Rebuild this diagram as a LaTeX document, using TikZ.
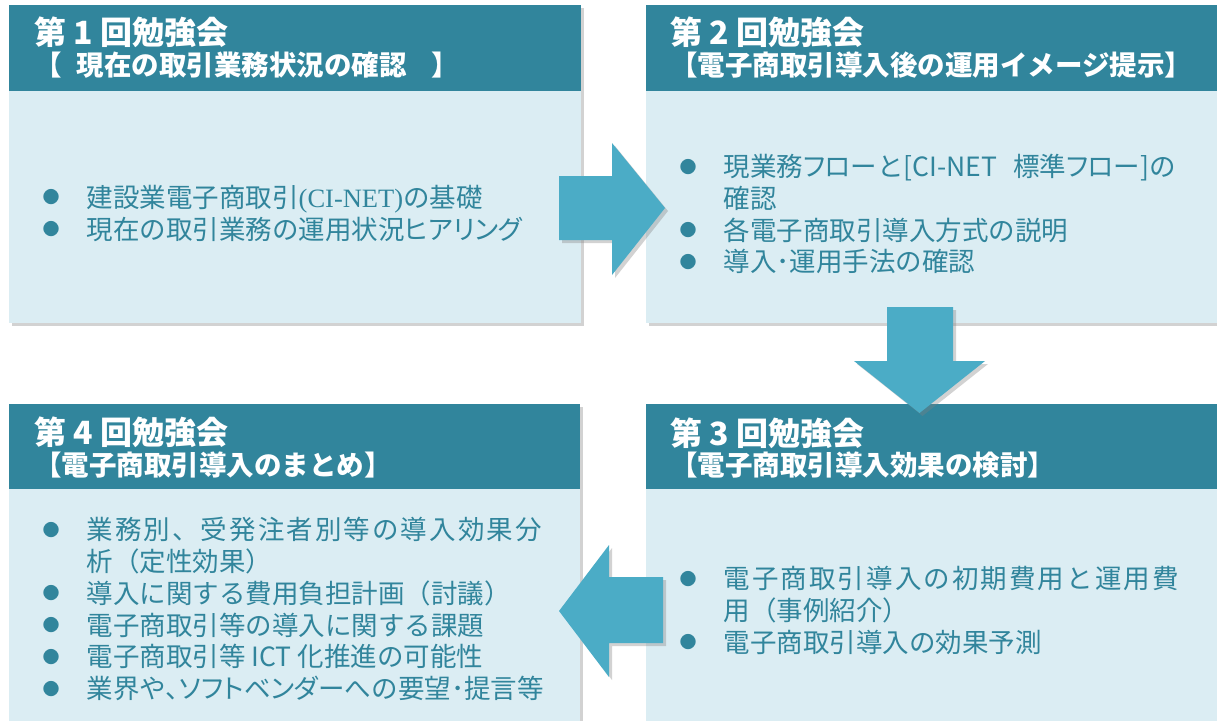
\documentclass[tikz,border=0pt]{standalone}
\usepackage{fontspec}
\newfontfamily\jp{Noto Sans CJK JP}
\newfontfamily\jpprop{Noto Sans CJK JP}[RawFeature=+palt]
\newfontfamily\jpspread{Noto Sans CJK JP}[LetterSpace=7.8]
\newfontfamily\latinserif{Liberation Serif}
\usetikzlibrary{shadows}
\definecolor{headteal}{RGB}{49,133,156}
\definecolor{bodyblue}{RGB}{219,237,243}
\definecolor{arrowblue}{RGB}{75,172,198}
\newcommand{\bul}{\makebox[44pt][l]{\raisebox{3.5pt}{\fontsize{17}{17}\selectfont ●}}}
\newcommand{\indentline}{\hspace*{44pt}}
\tikzset{
  panel/.style={fill=bodyblue, anchor=north west, inner sep=0pt,
    drop shadow={shadow xshift=3pt, shadow yshift=-3pt, opacity=.35}},
  head/.style={fill=headteal, anchor=north west, inner sep=0pt},
  title/.style={anchor=west, inner sep=0pt, text=white,
    font=\jp\bfseries\fontsize{32}{32}\selectfont},
  subtitle/.style={anchor=west, inner sep=0pt, text=white,
    font=\jp\bfseries\fontsize{27.5}{27.5}\selectfont},
  items/.style={anchor=north west, inner sep=0pt, align=left, text=headteal,
    font=\jp\fontsize{26.5}{31.8}\selectfont},
  bigarrow/.style={fill=arrowblue,
    drop shadow={shadow xshift=3pt, shadow yshift=-3pt, opacity=.35}}
}
\begin{document}
\begin{tikzpicture}[x=1pt,y=-1pt]
\useasboundingbox (0,0) rectangle (1217,720);
\clip (0,0) rectangle (1217,720);
\fill[white] (0,0) rectangle (1217,720);

% 第1回
\node[panel, minimum width=572pt, minimum height=318pt] (p1) at (9,5) {};
\node[head, minimum width=572pt, minimum height=86pt] (h1) at (p1.north west) {};
\node[title] (t1) at (34,32) {第 1 回勉強会};
\node[subtitle] (s1) at (34,65) {【\hspace{0.55em}現在の取引業務状況の確認\hspace{0.9em}】};
\node[items] (l1) at (42.5,185) {\bul 建設業電子商取引{\latinserif (CI-NET)}の基礎\\
  \bul 現在の取引業務の運用状況{\jpprop ヒアリング}};

% 第2回
\node[panel, minimum width=580pt, minimum height=318pt] (p2) at (646,5) {};
\node[head, minimum width=580pt, minimum height=86pt] (h2) at (p2.north west) {};
\node[title] (t2) at (670,32) {第 2 回勉強会};
\node[subtitle] (s2) at (670,65) {【電子商取引導入後の運用イメージ提示】};
\node[items] (l2) at (679.5,154) {\bul 現業務{\jpprop フロー}と[CI-NET\hspace{0.6em}標準{\jpprop フロー}]の\\
  \indentline 確認\\
  \bul 各電子商取引導入方式の説明\\
  \bul 導入･運用手法の確認};

% 第3回
\node[panel, minimum width=580pt, minimum height=330pt] (p3) at (646,404) {};
\node[head, minimum width=580pt, minimum height=85pt] (h3) at (p3.north west) {};
\node[title] (t3) at (670,433) {第 3 回勉強会};
\node[subtitle] (s3) at (670,465) {【電子商取引導入効果の検討】};
\node[items] (l3) at (679.5,566) {\bul {\jpspread 電子商取引導入の初期費用と運用費}\\
  \indentline 用（事例紹介）\\
  \bul 電子商取引導入の効果予測};

% 第4回
\node[panel, minimum width=571pt, minimum height=330pt] (p4) at (9,404) {};
\node[head, minimum width=571pt, minimum height=85pt] (h4) at (p4.north west) {};
\node[title] (t4) at (34,432) {第 4 回勉強会};
\node[subtitle] (s4) at (34,465) {【電子商取引導入のまとめ】};
\node[items] (l4) at (42.5,517) {\bul {\jpspread 業務別、受発注者別等の導入効果分}\\
  \indentline 析（定性効果）\\
  \bul 導入に関する費用負担計画（討議）\\
  \bul 電子商取引等の導入に関する課題\\
  \bul 電子商取引等 ICT 化推進の可能性\\
  \bul 業界や{\jpprop 、ソフトベンダーへ}の要望･提言等};

% arrows
\fill[bigarrow] (559,176) -- (612,176) -- (612,143) -- (665,208) -- (612,275)
  -- (612,240) -- (559,240) -- cycle;
\fill[bigarrow] (887,307) -- (953,307) -- (953,361) -- (985,361) -- (919.5,413)
  -- (854,361) -- (887,361) -- cycle;
\fill[bigarrow] (663,577) -- (609,577) -- (609,545) -- (559,611) -- (609,677)
  -- (609,643) -- (663,643) -- cycle;
\end{tikzpicture}
\end{document}
